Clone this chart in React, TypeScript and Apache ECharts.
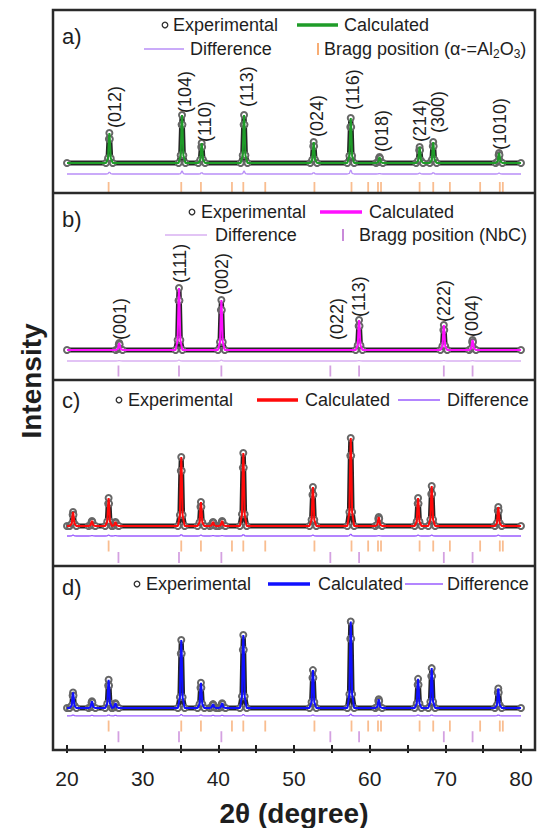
import React, { useEffect, useRef } from 'react';
import * as echarts from 'echarts';

// ---------- data (2θ in degrees, intensity in arbitrary units) ----------
const X_MIN = 20;
const X_MAX = 80;

// a) α-Al2O3
const peaksA = [25.6, 35.2, 37.8, 43.4, 52.6, 57.5, 61.3, 66.6, 68.4, 77.1];
const heightsA = [30, 48, 20, 48, 21, 45, 6, 16, 21, 10];
const diffA = [2, 3, 1.5, 3, 1.5, 4, 0.5, 1, 1.5, 1];
const hklA = ['(012)', '(104)', '(110)', '(113)', '(024)', '(116)', '(018)', '(214)', '(300)', '(1010)'];
const hklXA = [26.3, 35.6, 38.2, 43.8, 53.0, 57.8, 61.6, 66.6, 69.0, 77.2];
const hklYA = [35, 50, 21, 56, 26, 53, 11, 21, 30, 13];

// b) NbC
const peaksB = [26.9, 34.8, 40.4, 58.6, 69.8, 73.6];
const heightsB = [7, 62, 50, 30, 25, 10];
const diffB = [0.5, 1, 1, 0.5, 0.5, 0.5];
const hklB = ['(001)', '(111)', '(002)', '(022)', '(113)', '(222)', '(004)'];
const hklXB = [27.0, 34.9, 40.5, 55.7, 58.6, 69.8, 73.5];
const hklYB = [10, 67, 55, 10, 33, 28, 13];

// c) and d) composites
const peaksCD = [20.8, 23.3, 25.5, 26.4, 35.1, 37.7, 39.3, 40.5, 43.3, 52.5, 57.5, 61.2, 66.4, 68.2, 77.0];
const heightsC = [14, 5, 28, 4, 69, 24, 4, 5, 73, 39, 88, 9, 28, 40, 19];
const heightsD = [16, 7, 29, 5, 70, 26, 4, 5, 75, 39, 89, 9, 30, 41, 20];
const diffCD = [1, 0.5, 1, 0.5, 1.5, 1, 0.5, 0.5, 1.5, 1, 2, 0.5, 1, 1, 1];

// Bragg positions
const braggAl2O3 = [25.5, 35.1, 37.7, 41.8, 43.3, 46.2, 52.7, 57.6, 59.8, 61.1, 61.5, 66.6, 68.4, 70.6, 74.6, 77.2, 77.6];
const braggNbC = [26.8, 34.8, 40.4, 54.8, 58.6, 69.8, 73.6];

// peak template: [offset in degrees, fraction of peak height]
const PEAK_SHAPE = [
  [-0.45, 0], [-0.18, 0.16], [-0.06, 0.8], [0, 1], [0.06, 0.8], [0.18, 0.16], [0.45, 0],
];

// ---------- styling ----------
const FONT = 'Liberation Sans, Arial, Helvetica, sans-serif';
const TXT = '#1e1e1e';
const BOX = '#2a2a2a';
const ORANGE = '#f8ad74';
const NBC = '#c98ad9';
const GREEN = '#1f9c29';
const MAGENTA = '#ff10ff';
const RED = '#ff0a0a';
const BLUE = '#1010ff';
const DIFF_A = '#b98ff7';
const DIFF_B = '#d9b0f2';
const DIFF_CD = '#9a5cff';

function profile(pos: number[], h: number[], level = 0) {
  const pts: number[][] = [[X_MIN, level]];
  pos.forEach((p, i) => {
    PEAK_SHAPE.forEach(([dx, f]) => pts.push([p + dx, level + h[i] * f]));
  });
  pts.push([X_MAX, level]);
  return pts;
}

const PANELS = [
  { top: 10, height: 183, min: -30, max: 153, peaks: peaksA, heights: heightsA, diff: diffA, calc: GREEN, diffColor: DIFF_A, diffLevel: -11, al: -24.5, nbc: null as number | null, hkl: hklA, hklX: hklXA, hklY: hklYA },
  { top: 193, height: 187, min: -30, max: 157, peaks: peaksB, heights: heightsB, diff: diffB, calc: MAGENTA, diffColor: DIFF_B, diffLevel: -11, al: null as number | null, nbc: -21, hkl: hklB, hklX: hklXB, hklY: hklYB },
  { top: 380, height: 186, min: -40, max: 146, peaks: peaksCD, heights: heightsC, diff: diffCD, calc: RED, diffColor: DIFF_CD, diffLevel: -10, al: -20, nbc: -31.5, hkl: null as string[] | null, hklX: [] as number[], hklY: [] as number[] },
  { top: 566, height: 184, min: -38, max: 146, peaks: peaksCD, heights: heightsD, diff: diffCD, calc: BLUE, diffColor: DIFF_CD, diffLevel: -8, al: -18.5, nbc: -29.5, hkl: null as string[] | null, hklX: [] as number[], hklY: [] as number[] },
];

type Leg = { kind: 'circle' | 'line' | 'tick'; x: number; x2?: number; y: number; color: string; w?: number; tx: number; text: string; rich?: boolean };

const LEGENDS: Leg[] = [
  { kind: 'circle', x: 165, y: 25, color: '#333', tx: 173, text: 'Experimental' },
  { kind: 'line', x: 297, x2: 338, y: 25, color: GREEN, w: 3.5, tx: 344, text: 'Calculated' },
  { kind: 'line', x: 144, x2: 184, y: 49, color: DIFF_A, w: 1.6, tx: 190, text: 'Difference' },
  { kind: 'tick', x: 318, y: 49, color: ORANGE, tx: 324, text: 'Bragg position (α-=Al{s|2}O{s|3})', rich: true },

  { kind: 'circle', x: 192, y: 212, color: '#333', tx: 201, text: 'Experimental' },
  { kind: 'line', x: 320, x2: 362, y: 212, color: MAGENTA, w: 3.5, tx: 369, text: 'Calculated' },
  { kind: 'line', x: 165, x2: 207, y: 235, color: DIFF_B, w: 1.6, tx: 215, text: 'Difference' },
  { kind: 'tick', x: 343, y: 235, color: NBC, tx: 359, text: 'Bragg position (NbC)' },

  { kind: 'circle', x: 119, y: 400, color: '#333', tx: 128, text: 'Experimental' },
  { kind: 'line', x: 257, x2: 298, y: 400, color: RED, w: 3.5, tx: 305, text: 'Calculated' },
  { kind: 'line', x: 398, x2: 440, y: 400, color: DIFF_CD, w: 1.6, tx: 447, text: 'Difference' },

  { kind: 'circle', x: 137, y: 584, color: '#333', tx: 146, text: 'Experimental' },
  { kind: 'line', x: 268, x2: 310, y: 584, color: BLUE, w: 3.5, tx: 318, text: 'Calculated' },
  { kind: 'line', x: 405, x2: 443, y: 584, color: DIFF_CD, w: 1.6, tx: 447, text: 'Difference' },
];

const PANEL_TAGS = [
  { text: 'a)', y: 36 },
  { text: 'b)', y: 219 },
  { text: 'c)', y: 400 },
  { text: 'd)', y: 587 },
];

function buildGraphic() {
  const els: any[] = [];
  els.push({ type: 'rect', shape: { x: 53, y: 10, width: 482, height: 740 }, style: { fill: 'none', stroke: BOX, lineWidth: 2.5 }, z: 10 });
  [193, 380, 566].forEach((y) => {
    els.push({ type: 'line', shape: { x1: 53, y1: y, x2: 535, y2: y }, style: { stroke: BOX, lineWidth: 2.5 }, z: 10 });
  });
  PANEL_TAGS.forEach((t) => {
    els.push({ type: 'text', x: 62, y: t.y, style: { text: t.text, fontSize: 22, fontFamily: FONT, fill: TXT, align: 'left', verticalAlign: 'middle' }, z: 10 });
  });
  LEGENDS.forEach((l) => {
    if (l.kind === 'circle') {
      els.push({ type: 'circle', shape: { cx: l.x, cy: l.y, r: 2.8 }, style: { fill: '#fff', stroke: l.color, lineWidth: 1.3 }, z: 10 });
    } else if (l.kind === 'line') {
      els.push({ type: 'line', shape: { x1: l.x, y1: l.y, x2: l.x2, y2: l.y }, style: { stroke: l.color, lineWidth: l.w }, z: 10 });
    } else {
      els.push({ type: 'rect', shape: { x: l.x - 1, y: l.y - 6, width: 2, height: 12 }, style: { fill: l.color }, z: 10 });
    }
    els.push({
      type: 'text', x: l.tx, y: l.y,
      style: {
        text: l.text, fontSize: 18, fontFamily: FONT, fill: TXT, align: 'left', verticalAlign: 'middle',
        rich: l.rich ? { s: { fontSize: 12, fontFamily: FONT, fill: TXT, padding: [9, 0, 0, 0] } } : undefined,
      },
      z: 10,
    });
  });
  els.push({
    type: 'text', x: 31, y: 381, rotation: Math.PI / 2,
    style: { text: 'Intensity', fontSize: 28, fontWeight: 'bold', fontFamily: FONT, fill: TXT, align: 'center', verticalAlign: 'middle' },
    z: 10,
  });
  return els;
}

function buildOption() {
  const grid: any[] = [];
  const xAxis: any[] = [];
  const yAxis: any[] = [];
  const series: any[] = [];
  PANELS.forEach((p, i) => {
    grid.push({ left: 67, right: 18, top: p.top, height: p.height });
    const last = i === PANELS.length - 1;
    xAxis.push({
      type: 'value', gridIndex: i, min: X_MIN, max: X_MAX, interval: 5,
      show: last,
      position: 'bottom',
      axisLine: { show: false, onZero: false },
      splitLine: { show: false },
      axisTick: { show: true, inside: false, length: 8, lineStyle: { color: TXT, width: 2 } },
      axisLabel: { fontSize: 21, color: TXT, fontFamily: FONT, margin: 23, formatter: (v: number) => (v % 10 === 0 ? String(v) : '') },
      name: last ? '2θ (degree)' : '',
      nameLocation: 'middle',
      nameGap: 54,
      nameTextStyle: { fontSize: 28, fontWeight: 'bold', color: TXT, fontFamily: FONT },
    });
    yAxis.push({ type: 'value', gridIndex: i, min: p.min, max: p.max, show: false, splitLine: { show: false } });

    const data = profile(p.peaks, p.heights);
    series.push({
      name: 'Experimental', type: 'line', xAxisIndex: i, yAxisIndex: i, data,
      symbol: 'emptyCircle', symbolSize: 6, showAllSymbol: true,
      itemStyle: { color: '#666', borderColor: '#444', borderWidth: 1.2 },
      lineStyle: { color: '#262626', width: 5 },
      z: 2, silent: true,
    });
    series.push({
      name: 'Calculated', type: 'line', xAxisIndex: i, yAxisIndex: i, data,
      symbol: 'none', lineStyle: { color: p.calc, width: 2 }, z: 3, silent: true,
    });
    series.push({
      name: 'Difference', type: 'line', xAxisIndex: i, yAxisIndex: i,
      data: profile(p.peaks, p.diff, p.diffLevel),
      symbol: 'none', lineStyle: { color: p.diffColor, width: 1.3 }, z: 2, silent: true,
    });
    if (p.al !== null) {
      series.push({
        name: 'Bragg position (α-Al2O3)', type: 'scatter', xAxisIndex: i, yAxisIndex: i,
        data: braggAl2O3.map((x) => [x, p.al]),
        symbol: 'rect', symbolSize: [1.8, 11], itemStyle: { color: ORANGE }, z: 2, silent: true,
      });
    }
    if (p.nbc !== null) {
      series.push({
        name: 'Bragg position (NbC)', type: 'scatter', xAxisIndex: i, yAxisIndex: i,
        data: braggNbC.map((x) => [x, p.nbc]),
        symbol: 'rect', symbolSize: [1.8, 11], itemStyle: { color: NBC }, z: 2, silent: true,
      });
    }
  });
  return {
    animation: false,
    backgroundColor: '#fff',
    textStyle: { fontFamily: FONT },
    grid, xAxis, yAxis, series,
    graphic: buildGraphic(),
  };
}

// hkl labels: anchored at data coordinates through each grid's own scales
function hklGraphic(chart: echarts.ECharts) {
  const els: any[] = [];
  PANELS.forEach((p, i) => {
    if (!p.hkl) return;
    p.hkl.forEach((t, k) => {
      const pt = chart.convertToPixel({ gridIndex: i } as any, [p.hklX[k], p.hklY[k]]) as number[];
      els.push({
        type: 'text', x: pt[0], y: pt[1], rotation: Math.PI / 2,
        style: { text: t, fontSize: 18, fontFamily: FONT, fill: TXT, align: 'left', verticalAlign: 'middle' },
        z: 12,
      });
    });
  });
  return els;
}

export default function App() {
  const ref = useRef<HTMLDivElement>(null);
  useEffect(() => {
    const chart = echarts.init(ref.current!, null, { renderer: 'svg' });
    chart.setOption(buildOption() as any);
    chart.setOption({ graphic: [...buildGraphic(), ...hklGraphic(chart)] } as any);
    return () => chart.dispose();
  }, []);
  return <div ref={ref} style={{ position: 'absolute', left: 0, top: 0, width: 539, height: 828 }} />;
}
